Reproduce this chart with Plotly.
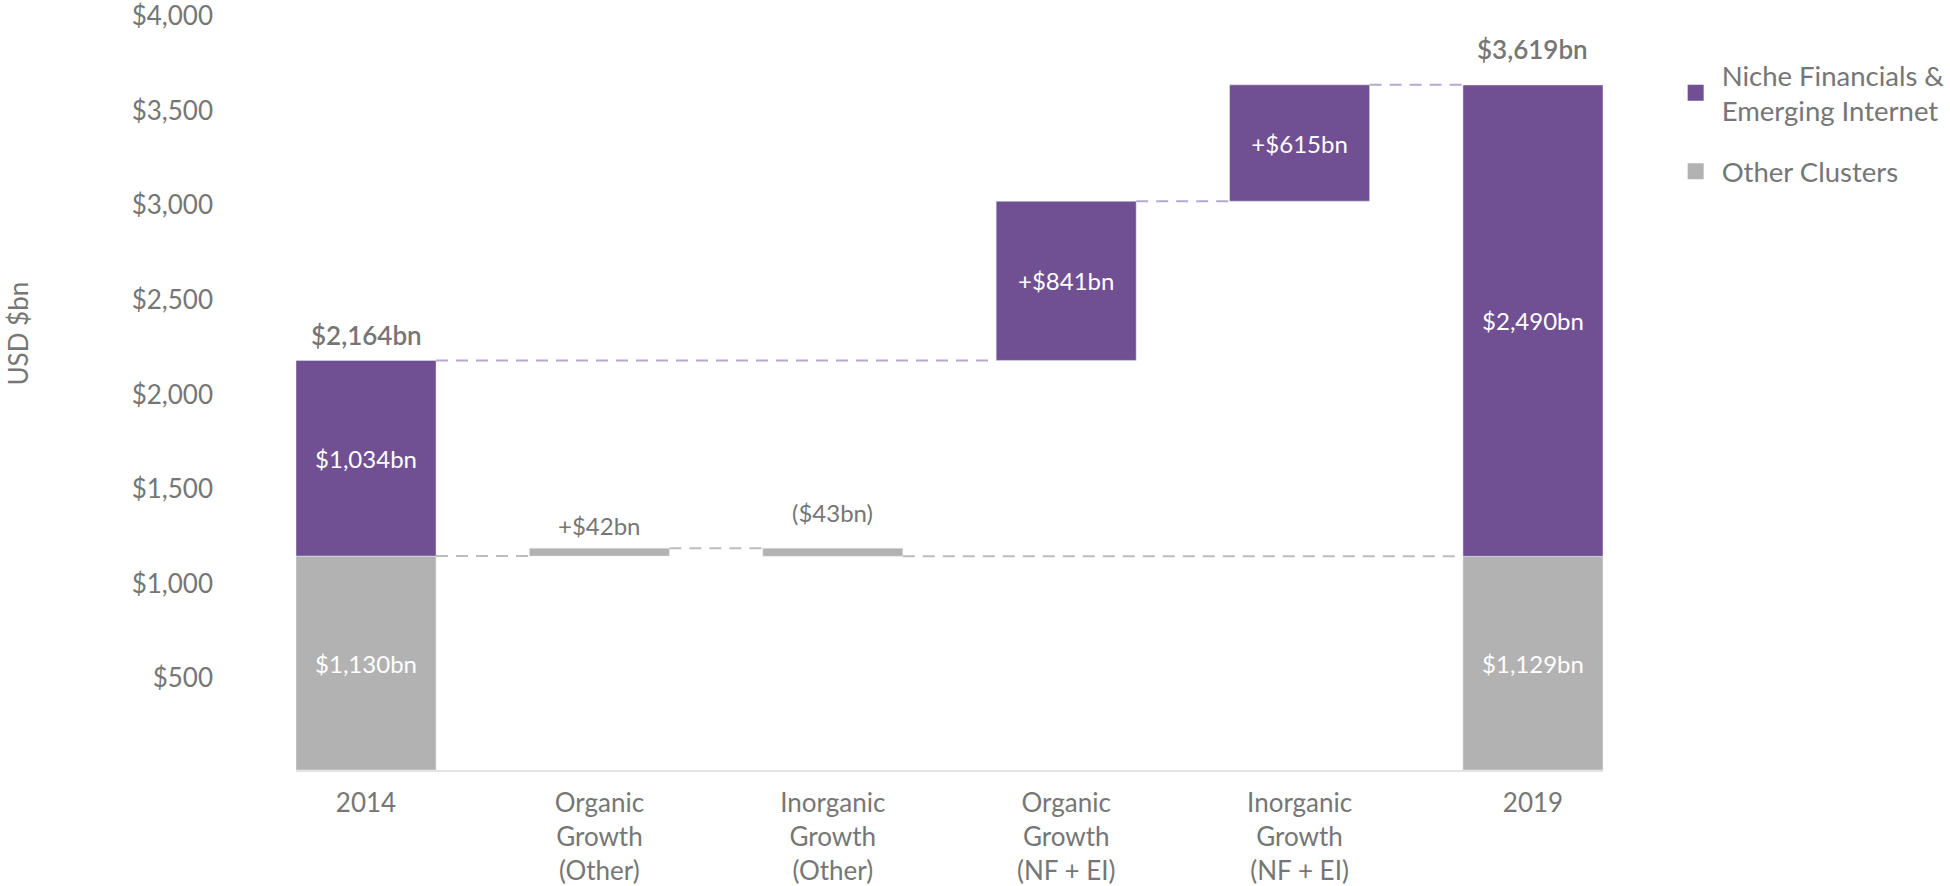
import plotly.graph_objects as go

# ---- data ----
categories = ["2014", "Organic<br>Growth<br>(Other)", "Inorganic<br>Growth<br>(Other)",
              "Organic<br>Growth<br>(NF + EI)", "Inorganic<br>Growth<br>(NF + EI)", "2019"]
other_2014 = 1130
nf_2014 = 1034
organic_other = 42
inorganic_other = -43
organic_nf = 841
inorganic_nf = 615
other_2019 = 1129
nf_2019 = 2490
total_2014 = 2164
total_2019 = 3619
y_ticks = [500, 1000, 1500, 2000, 2500, 3000, 3500, 4000]

PURPLE = "#704f93"
GRAY = "#b2b2b2"
TXT = "#767676"
FONT = "Lato"

xi = list(range(len(categories)))

# bases / heights
org_other_base = other_2014
inorg_other_top = other_2014 + organic_other
inorg_other_base = inorg_other_top + inorganic_other
org_nf_base = total_2014
inorg_nf_base = org_nf_base + organic_nf
nf_2019_base = other_2019

gray_base = [0, org_other_base, inorg_other_base, None, None, 0]
gray_h = [other_2014, organic_other, abs(inorganic_other), None, None, other_2019]
gray_txt = [f"${other_2014:,}bn", "", "", "", "", f"${other_2019:,}bn"]

pur_base = [other_2014, None, None, org_nf_base, inorg_nf_base, nf_2019_base]
pur_h = [nf_2014, None, None, organic_nf, inorganic_nf, nf_2019]
pur_txt = [f"${nf_2014:,}bn", "", "", f"+${organic_nf:,}bn", f"+${inorganic_nf:,}bn", f"${nf_2019:,}bn"]

fig = go.Figure()
W = 0.6
h = W / 2

# connectors
def conn(x0, x1, y, color):
    fig.add_trace(go.Scatter(x=[x0, x1], y=[y, y], mode="lines", showlegend=False,
                             hoverinfo="skip",
                             line=dict(color=color, width=2, dash="12px,8px")))

CG = "#bdbdbd"
CP = "#b7a8cf"
conn(0 + h, 1 - h, other_2014, CG)
conn(1 + h, 2 - h, inorg_other_top, CG)
conn(2 + h, 5 - h, inorg_other_base, CG)
conn(0 + h, 3 - h, total_2014, CP)
conn(3 + h, 4 - h, inorg_nf_base, CP)
conn(4 + h, 5 - h, inorg_nf_base + inorganic_nf, CP)

fig.add_trace(go.Bar(x=xi, y=gray_h, base=gray_base, width=W, marker_color=GRAY,
                     text=gray_txt, textposition="inside", insidetextanchor="middle",
                     textfont=dict(family=FONT, size=24, color="white"),
                     showlegend=False, hoverinfo="skip"))
fig.add_trace(go.Bar(x=xi, y=pur_h, base=pur_base, width=W, marker_color=PURPLE,
                     text=pur_txt, textposition="inside", insidetextanchor="middle",
                     textfont=dict(family=FONT, size=24, color="white"),
                     showlegend=False, hoverinfo="skip"))

# legend entries
fig.add_trace(go.Scatter(x=[None], y=[None], mode="markers", name="Niche Financials &<br>Emerging Internet",
                         marker=dict(symbol="square", size=16, color=PURPLE), legendgroup="a"))
fig.add_trace(go.Scatter(x=[None], y=[None], mode="markers", name="Other Clusters",
                         marker=dict(symbol="square", size=16, color=GRAY), legendgroup="b"))

ann = []
ann.append(dict(x=0, y=total_2014, text=f"${total_2014:,}bn", yshift=25))
ann.append(dict(x=5, y=total_2019, text=f"${total_2019:,}bn", yshift=36))
for a in ann:
    a.update(xref="x", yref="y", showarrow=False, yanchor="middle",
             font=dict(family=FONT, size=26, color=TXT, weight=600))
ann.append(dict(x=1, y=inorg_other_top, text=f"+${organic_other}bn", yshift=23,
                xref="x", yref="y", showarrow=False, yanchor="middle",
                font=dict(family=FONT, size=24, color=TXT)))
ann.append(dict(x=2, y=inorg_other_top, text=f"(${abs(inorganic_other)}bn)", yshift=36,
                xref="x", yref="y", showarrow=False, yanchor="middle",
                font=dict(family=FONT, size=24, color=TXT)))
ann.append(dict(x=-0.2127, y=0.575, xref="paper", yref="paper", text="USD $bn", textangle=-90,
                showarrow=False, xanchor="center", yanchor="middle",
                font=dict(family=FONT, size=26, color=TXT)))

fig.update_layout(
    width=1950, height=886,
    margin=dict(l=296, r=347, t=11, b=116, autoexpand=False),
    paper_bgcolor="white", plot_bgcolor="white",
    barmode="overlay",
    font=dict(family=FONT, size=26, color=TXT),
    annotations=ann,
    legend=dict(x=1.051, y=0.948, xanchor="left", yanchor="top",
                font=dict(family=FONT, size=27.5, color=TXT),
                itemwidth=42,
                tracegroupgap=22, itemsizing="trace"),
    xaxis=dict(range=[-h, 5 + h], tickvals=xi, ticktext=categories, showgrid=False,
               zeroline=False, showline=True, linecolor="#e3e3e3", linewidth=2,
               ticks="", ticklabelstandoff=9, automargin=False,
               tickfont=dict(family=FONT, size=26, color=TXT), fixedrange=True),
    yaxis=dict(range=[0, 4010], tickvals=y_ticks, ticktext=[f"${v:,}" for v in y_ticks],
               showgrid=False, zeroline=False, showline=False, ticks="",
               ticklabelstandoff=82, ticklabelshift=3, ticklabeloverflow="allow",
               automargin=False,
               tickfont=dict(family=FONT, size=26, color=TXT), fixedrange=True),
)

# remove the default 8px page margin so the figure fills the window exactly
fig.write_html("out.html", config={"displayModeBar": False},
               post_script="document.body.style.margin='0';")
